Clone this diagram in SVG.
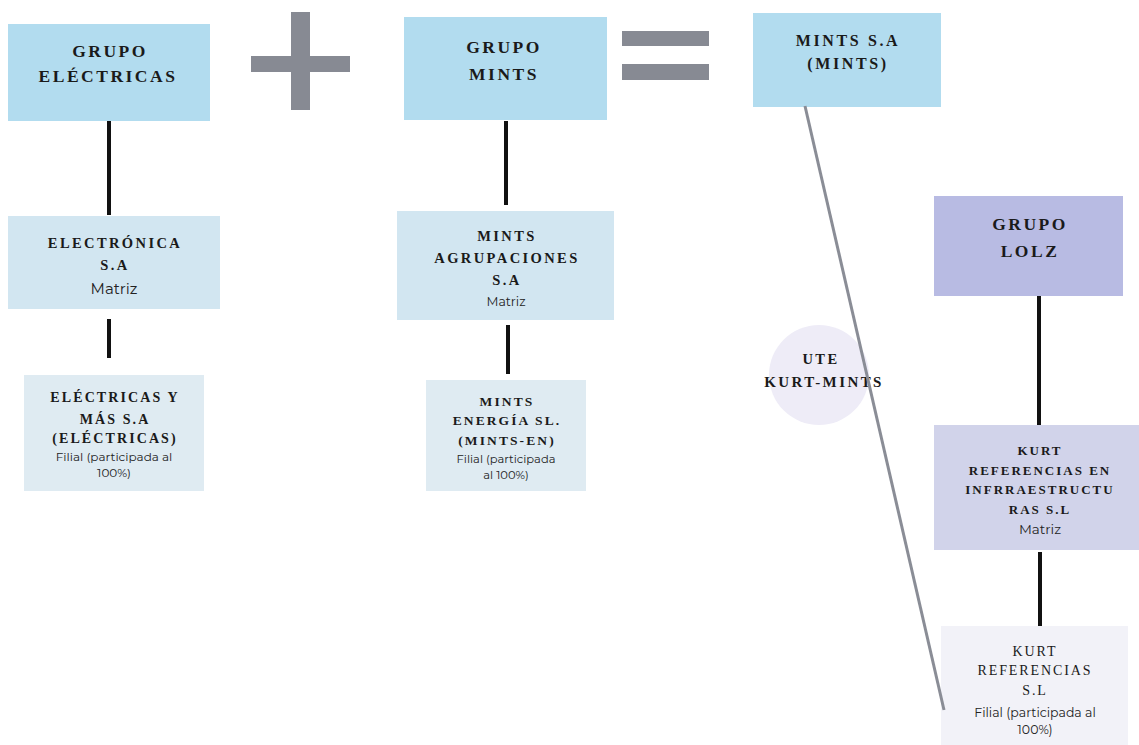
<svg xmlns="http://www.w3.org/2000/svg" width="1139" height="745" viewBox="0 0 1139 745">
<style>
.t{font-family:"Liberation Serif","Times New Roman",serif;font-weight:bold;fill:#1a1a1a;text-anchor:middle;letter-spacing:2.5px}
.big{font-size:17.5px}
.sm{font-size:14.5px;letter-spacing:2.4px}
.xs{font-size:13.5px;letter-spacing:2.1px}
.md{font-size:16px;letter-spacing:2.6px}
.s{font-family:"Montserrat","Noto Sans","Liberation Sans",sans-serif;fill:#222;text-anchor:middle}
.c{stroke:#111;stroke-width:4;fill:none}
.op{fill:#878a93}
</style>
<rect width="1139" height="745" fill="#ffffff"/>
<g id="operators">
<rect class="op" x="291" y="12" width="19" height="98"/>
<rect class="op" x="251" y="56" width="99" height="16"/>
<rect class="op" x="622" y="31" width="87" height="15"/>
<rect class="op" x="622" y="64" width="87" height="16"/>
</g>
<g id="connectors">
<line class="c" x1="109" y1="121" x2="109" y2="215"/>
<line class="c" x1="109" y1="319" x2="109" y2="358"/>
<line class="c" x1="506" y1="121" x2="506" y2="205"/>
<line class="c" x1="508" y1="325" x2="508" y2="374"/>
<line class="c" x1="1039" y1="296" x2="1039" y2="431"/>
<line class="c" x1="1040" y1="552" x2="1040" y2="626"/>
</g>
<g id="grupo-electricas">
<rect x="8" y="24" width="202" height="97" fill="#b2dcef"/>
<text class="t big" x="110" y="57">GRUPO</text>
<text class="t big" x="108" y="82">ELÉCTRICAS</text>
</g>
<g id="grupo-mints">
<rect x="404" y="17" width="203" height="103" fill="#b2dcef"/>
<text class="t big" x="504" y="53">GRUPO</text>
<text class="t big" x="504" y="80">MINTS</text>
</g>
<g id="mints-sa">
<rect x="753" y="13" width="188" height="94" fill="#b2dcef"/>
<text class="t md" x="848" y="46">MINTS S.A</text>
<text class="t md" x="848" y="69">(MINTS)</text>
</g>
<g id="electronica">
<rect x="8" y="216" width="212" height="93" fill="#d2e6f1"/>
<text class="t sm" x="115" y="248">ELECTRÓNICA</text>
<text class="t sm" x="115" y="270">S.A</text>
<text class="s" x="114" y="294" style="font-size:15px">Matriz</text>
</g>
<g id="electricas-y-mas">
<rect x="24" y="375" width="180" height="116" fill="#dfebf2"/>
<text class="t xs" x="115" y="402" style="font-size:14px">ELÉCTRICAS Y</text>
<text class="t xs" x="115" y="424" style="font-size:14px">MÁS S.A</text>
<text class="t xs" x="115" y="443" style="font-size:14px">(ELÉCTRICAS)</text>
<text class="s" x="114" y="461" style="font-size:12px">Filial (participada al</text>
<text class="s" x="114" y="477" style="font-size:12px">100%)</text>
</g>
<g id="mints-agrupaciones">
<rect x="397" y="211" width="217" height="109" fill="#d2e6f1"/>
<text class="t sm" x="507" y="241">MINTS</text>
<text class="t sm" x="507" y="263">AGRUPACIONES</text>
<text class="t sm" x="507" y="285">S.A</text>
<text class="s" x="506" y="306" style="font-size:12.5px">Matriz</text>
</g>
<g id="mints-energia">
<rect x="426" y="380" width="160" height="111" fill="#dfebf2"/>
<text class="t xs" x="507" y="406">MINTS</text>
<text class="t xs" x="507" y="425">ENERGÍA SL.</text>
<text class="t xs" x="507" y="445">(MINTS-EN)</text>
<text class="s" x="506" y="463" style="font-size:11.5px">Filial (participada</text>
<text class="s" x="506" y="479" style="font-size:11.5px">al 100%)</text>
</g>
<g id="ute-kurt-mints">
<circle cx="819" cy="375" r="50" fill="#eeecf7"/>
<text class="t sm" x="821" y="364">UTE</text>
<text class="t sm" x="824" y="387" style="font-size:15px">KURT-MINTS</text>
</g>
<g id="grupo-lolz">
<rect x="934" y="196" width="189" height="100" fill="#b8bbe3"/>
<text class="t big" x="1030" y="230">GRUPO</text>
<text class="t big" x="1030" y="257">LOLZ</text>
</g>
<g id="kurt-infraestructuras">
<rect x="934" y="425" width="205" height="125" fill="#d1d3ea"/>
<text class="t xs" x="1040" y="455" style="font-size:13px;letter-spacing:2px">KURT</text>
<text class="t xs" x="1040" y="475" style="font-size:13px;letter-spacing:2px">REFERENCIAS EN</text>
<text class="t xs" x="1040" y="494" style="font-size:13px;letter-spacing:2px">INFRRAESTRUCTU</text>
<text class="t xs" x="1040" y="514" style="font-size:13px;letter-spacing:2px">RAS S.L</text>
<text class="s" x="1040" y="534" style="font-size:13.5px">Matriz</text>
</g>
<g id="kurt-referencias">
<rect x="941" y="626" width="187" height="119" fill="#f2f2f8"/>
<text class="t" x="1035" y="656" style="font-size:14px;font-weight:normal;letter-spacing:1.9px">KURT</text>
<text class="t" x="1035" y="675" style="font-size:14px;font-weight:normal;letter-spacing:1.9px">REFERENCIAS</text>
<text class="t" x="1035" y="695" style="font-size:14px;font-weight:normal;letter-spacing:1.9px">S.L</text>
<text class="s" x="1035" y="717" style="font-size:12.5px">Filial (participada al</text>
<text class="s" x="1035" y="734" style="font-size:12.5px">100%)</text>
</g>
<g id="ute-link">
<line x1="805" y1="106" x2="944" y2="710" stroke="#8a8d96" stroke-width="3"/>
</g>
</svg>
